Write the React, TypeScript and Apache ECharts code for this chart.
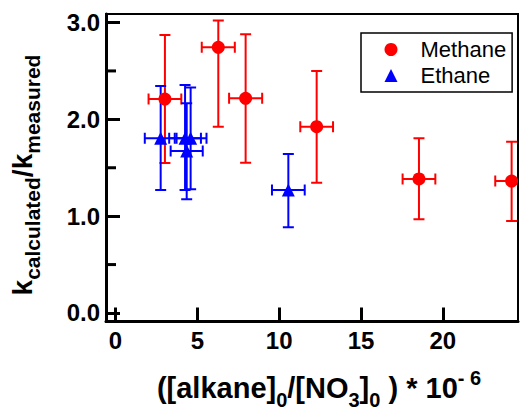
import React, { useEffect, useRef } from "react";
import * as echarts from "echarts";

const FONT = "'Liberation Sans', Arial, Helvetica, sans-serif";

// Methane (red circles)
const methaneX = [3.02, 6.28, 7.95, 12.29, 18.54, 24.2];
const methaneY = [2.21, 2.744, 2.217, 1.924, 1.384, 1.363];
const methaneXErr = [1.0, 1.01, 1.01, 1.0, 1.0, 1.0];
const methaneYLow = [1.55, 1.924, 1.552, 1.346, 0.968, 0.95];
const methaneYHigh = [2.87, 3.02, 2.88, 2.5, 1.804, 1.769];

// Ethane (blue triangles)
const ethaneX = [2.76, 4.25, 4.59, 4.35, 10.56];
const ethaneY = [1.804, 1.804, 1.804, 1.673, 1.27];
const ethaneXErr = [0.97, 0.97, 0.97, 0.98, 1.0];
const ethaneYLow = [1.27, 1.27, 1.277, 1.174, 0.885];
const ethaneYHigh = [2.344, 2.355, 2.33, 2.166, 1.642];

const xTicks = [0, 5, 10, 15, 20];
const yTicks = [0, 1, 2, 3];
const yMinorTicks = [0.5, 1.5, 2.5];

const X_MIN = -0.58;
const X_MAX = 24.59;
const Y_MIN = -0.088;
const Y_MAX = 3.088;

function errData(xs: number[], ys: number[], xe: number[], yl: number[], yh: number[]) {
  return xs.map((x, i) => [x, ys[i], x - xe[i], x + xe[i], yl[i], yh[i]]);
}

function errSeries(data: number[][], color: string) {
  return {
    type: "custom",
    clip: true,
    silent: true,
    z: 2,
    encode: { x: 0, y: 1 },
    data,
    renderItem: (params: any, api: any) => {
      const x = api.value(0);
      const y = api.value(1);
      const pxl = api.coord([api.value(2), y]);
      const pxh = api.coord([api.value(3), y]);
      const pyl = api.coord([x, api.value(4)]);
      const pyh = api.coord([x, api.value(5)]);
      const cap = 5.5;
      const style = { stroke: color, lineWidth: 2 };
      return {
        type: "group",
        children: [
          { type: "line", shape: { x1: pyl[0], y1: pyl[1], x2: pyh[0], y2: pyh[1] }, style },
          { type: "line", shape: { x1: pyl[0] - cap, y1: pyl[1], x2: pyl[0] + cap, y2: pyl[1] }, style },
          { type: "line", shape: { x1: pyh[0] - cap, y1: pyh[1], x2: pyh[0] + cap, y2: pyh[1] }, style },
          { type: "line", shape: { x1: pxl[0], y1: pxl[1], x2: pxh[0], y2: pxh[1] }, style },
          { type: "line", shape: { x1: pxl[0], y1: pxl[1] - cap, x2: pxl[0], y2: pxl[1] + cap }, style },
          { type: "line", shape: { x1: pxh[0], y1: pxh[1] - cap, x2: pxh[0], y2: pxh[1] + cap }, style },
        ],
      };
    },
  };
}

export default function App() {
  const ref = useRef<HTMLDivElement>(null);
  useEffect(() => {
    if (!ref.current) return;
    const chart = echarts.init(ref.current, undefined, { renderer: "svg" });
    const labelStyle = { fontSize: 24, fontWeight: "bold", color: "#000", fontFamily: FONT };
    const titles: any[] = [
      {
        type: "text",
        x: 319,
        y: 382.5,
        style: {
          text: "{m|([alkane]}{sub|0}{m|/[NO}{sub|3}{m|]}{sub|0}{m| ) * 10}{sup|- 6}",
          align: "center",
          verticalAlign: "middle",
          fill: "#000",
          rich: {
            m: { fontSize: 29, fontWeight: "bold", fontFamily: FONT, fill: "#000", lineHeight: 29, verticalAlign: "top", padding: [5.4, 0, 0, 0] },
            sub: { fontSize: 20, fontWeight: "bold", fontFamily: FONT, fill: "#000", lineHeight: 20, verticalAlign: "top", padding: [22, 0, 0, 0] },
            sup: { fontSize: 20, fontWeight: "bold", fontFamily: FONT, fill: "#000", lineHeight: 20, verticalAlign: "top", padding: [0, 0, 0, 0] },
          },
        },
      },
      {
        type: "text",
        x: 22,
        y: 175,
        rotation: Math.PI / 2,
        style: {
          text: "{m|k}{sub|calculated}{m|/k}{sub|measured}",
          align: "center",
          verticalAlign: "middle",
          fill: "#000",
          rich: {
            m: { fontSize: 28, fontWeight: "bold", fontFamily: FONT, fill: "#000", lineHeight: 28, verticalAlign: "top" },
            sub: { fontSize: 21, fontWeight: "bold", fontFamily: FONT, fill: "#000", lineHeight: 21, verticalAlign: "top", padding: [14, 0, 0, 0] },
          },
        },
      },
    ];
    const option: any = {
      animation: false,
      grid: {
        left: 106,
        right: 2,
        top: 14,
        bottom: 90.5,
        show: true,
        borderColor: "#000",
        borderWidth: 2,
        containLabel: false,
      },
      xAxis: {
        type: "value",
        min: X_MIN,
        max: X_MAX,
        axisLine: { show: true, onZero: false, lineStyle: { color: "#000", width: 3 } },
        axisTick: { show: true, inside: true, length: 14, lineStyle: { color: "#000", width: 3 }, customValues: xTicks },
        axisLabel: { ...labelStyle, margin: 7, customValues: xTicks },
        splitLine: { show: false },
      },
      yAxis: {
        type: "value",
        min: Y_MIN,
        max: Y_MAX,
        position: "left",
        axisLine: { show: true, onZero: false, lineStyle: { color: "#000", width: 3 } },
        axisTick: { show: true, inside: true, length: 14, lineStyle: { color: "#000", width: 3 }, customValues: yTicks },
        axisLabel: { ...labelStyle, margin: 6, customValues: yTicks, formatter: (v: number) => v.toFixed(1) },
        splitLine: { show: false },
      },
      legend: {
        left: 361,
        top: 33,
        orient: "vertical",
        selectedMode: false,
        data: [
          { name: "Methane", icon: "circle" },
          { name: "Ethane", icon: "triangle" },
        ],
        itemWidth: 13,
        itemHeight: 13,
        itemGap: 2,
        padding: [4.5, 6, 4.5, 23.5],
        borderColor: "#000",
        borderWidth: 1.5,
        textStyle: { fontSize: 22, color: "#000", fontFamily: FONT, lineHeight: 24, padding: [0, 0, 0, 18] },
      },
      series: [
        errSeries(errData(methaneX, methaneY, methaneXErr, methaneYLow, methaneYHigh), "#ff0000"),
        errSeries(errData(ethaneX, ethaneY, ethaneXErr, ethaneYLow, ethaneYHigh), "#0000ff"),
        {
          name: "Methane",
          type: "scatter",
          symbol: "circle",
          symbolSize: 13,
          z: 3,
          itemStyle: { color: "#ff0000", opacity: 1 },
          data: methaneX.map((x, i) => [x, methaneY[i]]),
        },
        {
          name: "Ethane",
          type: "scatter",
          symbol: "triangle",
          symbolSize: 13,
          z: 3,
          itemStyle: { color: "#0000ff", opacity: 1 },
          data: ethaneX.map((x, i) => [x, ethaneY[i]]),
        },
      ],
      graphic: titles,
    };
    chart.setOption(option);

    // Minor y ticks, positioned through the axes' scales
    const axisX = Number(chart.convertToPixel({ xAxisIndex: 0 }, X_MIN));
    const minorTicks = yMinorTicks.map((v) => {
      const py = Number(chart.convertToPixel({ yAxisIndex: 0 }, v));
      return {
        type: "line",
        z: 100,
        silent: true,
        shape: { x1: axisX, y1: py, x2: axisX + 10, y2: py },
        style: { stroke: "#000", lineWidth: 3 },
      };
    });
    chart.setOption({ graphic: [...titles, ...minorTicks] });
    return () => chart.dispose();
  }, []);
  return <div ref={ref} style={{ width: 520, height: 412, position: "absolute", left: 0, top: 0 }} />;
}
